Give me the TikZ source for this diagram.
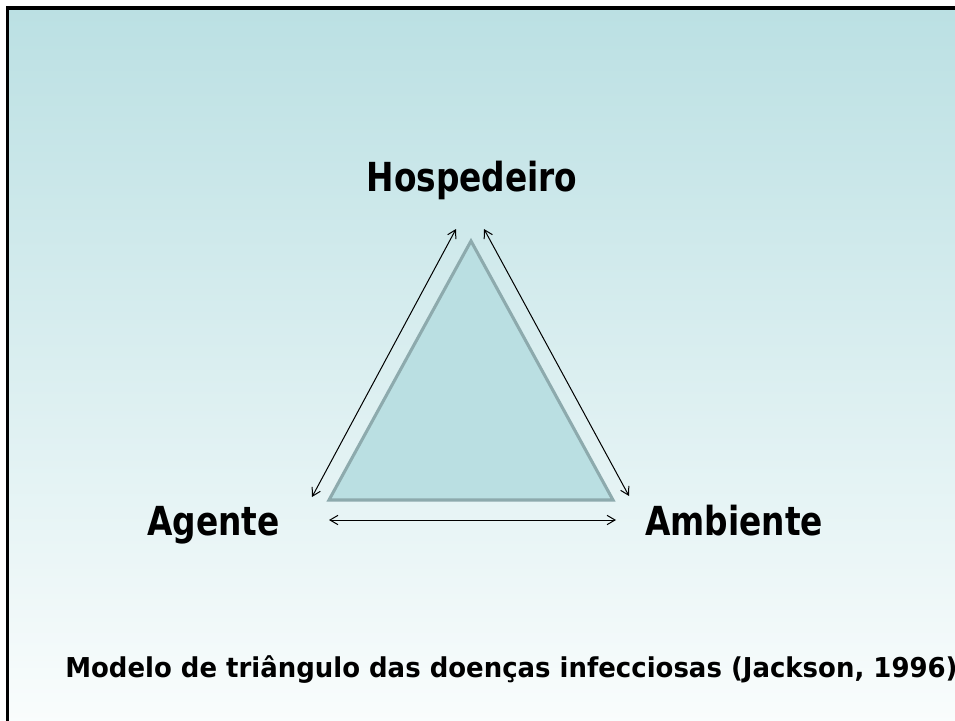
\documentclass[tikz,border=0pt]{standalone}
\usepackage{fontspec}
\usetikzlibrary{arrows.meta}
\newfontfamily\labfont[FakeStretch=0.82]{DejaVu Sans Bold}
\newfontfamily\capfont[FakeStretch=0.95]{DejaVu Sans Bold}
\definecolor{bgtop}{HTML}{BBE0E3}
\definecolor{bgbot}{HTML}{FAFDFD}
\definecolor{trifill}{HTML}{BADFE2}
\definecolor{tristroke}{HTML}{8DAAAD}
\tikzset{
  biglabel/.style={inner sep=0pt, font=\labfont\fontsize{30}{36}\selectfont, text=black},
  caplabel/.style={inner sep=0pt, font=\capfont\fontsize{20.5}{24}\selectfont, text=black},
  relarrow/.style={draw=black, line width=0.75pt, {Straight Barb[length=6pt,width=7pt]}-{Straight Barb[length=6pt,width=7pt]}},
  tri/.style={fill=trifill, draw=tristroke, line width=2.3pt, line join=miter}
}
\begin{document}
\begin{tikzpicture}[x=0.75pt,y=-0.75pt]
\useasboundingbox (0,0) rectangle (955,720);
\begin{scope}
\clip (0,0) rectangle (955,720);
\fill[white] (0,0) rectangle (955,720);
\shade[top color=bgtop, bottom color=bgbot] (7.5,8) rectangle (970,730);
\draw[line width=2.3pt, black] (7.5,735) -- (7.5,8) -- (970,8);
% triangle
\coordinate (apex) at (471,241);
\coordinate (bl) at (329,500);
\coordinate (br) at (613,500);
\draw[tri] (apex) -- (br) -- (bl) -- cycle;
% arrow end points
\coordinate (lt) at (456,229);
\coordinate (lb) at (312,497);
\coordinate (rt) at (484,229);
\coordinate (rb) at (629,496);
\coordinate (bla) at (329,520);
\coordinate (bra) at (616,520);
\draw[relarrow] (lb) -- (lt);
\draw[relarrow] (rt) -- (rb);
\draw[relarrow] (bla) -- (bra);
% labels
\node[biglabel, anchor=base] (host) at (472,192) {Hospedeiro};
\node[biglabel, anchor=base west] (agent) at (147,535) {Agente};
\node[biglabel, anchor=base west] (env) at (645,535) {Ambiente};
\node[caplabel, anchor=base west] (cap) at (65,677) {Modelo de triângulo das doenças infecciosas (Jackson, 1996)};
\end{scope}
\end{tikzpicture}
\end{document}
